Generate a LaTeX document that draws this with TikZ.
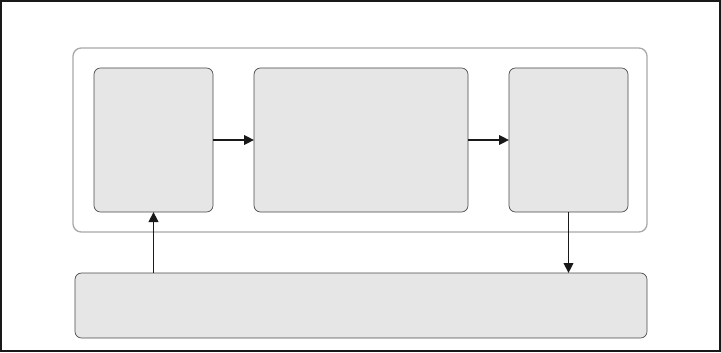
\documentclass[tikz,border=0pt]{standalone}
\usepackage{tikz}
\usetikzlibrary{arrows.meta,positioning,calc}
\definecolor{bxFill}{HTML}{E6E6E6}
\definecolor{bxLine}{HTML}{4A4A4A}
\definecolor{plLine}{HTML}{A8A8A8}
\tikzset{
  arr/.style={-{Triangle[length=3mm,width=2.9mm]}, line width=1.3pt, draw=black!90},
  stage/.style={rounded corners=5.5pt, draw=bxLine, fill=bxFill, line width=0.6pt, minimum height=4.32cm, inner sep=0pt, outer sep=0pt},
  base/.style={rounded corners=5.5pt, draw=bxLine, fill=bxFill, line width=0.6pt, minimum height=1.95cm, inner sep=0pt, outer sep=0pt},
  plate/.style={draw=plLine, rounded corners=7pt, fill=white, line width=1.1pt, inner sep=0pt}
}
\begin{document}
\begin{tikzpicture}[x=1cm,y=1cm]
  \useasboundingbox (0,0) rectangle (21.63,10.56);
  \draw[line width=1pt, black!90] (0.03,0.03) rectangle (21.60,10.53);

  \node[plate, minimum width=17.22cm, minimum height=5.52cm] (plate) at (10.8,6.36) {};

  \node[stage, minimum width=3.57cm] (left) at (4.605,6.36) {};
  \node[stage, minimum width=6.42cm] (mid) at (10.83,6.36) {};
  \node[stage, minimum width=3.57cm] (right) at (17.055,6.36) {};
  \node[base, minimum width=17.16cm] (bottom) at (10.83,1.395) {};

  \draw[arr] (left.east) -- (mid.west);
  \draw[arr] (mid.east) -- (right.west);
  \draw[arr] (right.south) -- (right.south |- bottom.north);
  \draw[arr] (left.south |- bottom.north) -- (left.south);
\end{tikzpicture}
\end{document}
